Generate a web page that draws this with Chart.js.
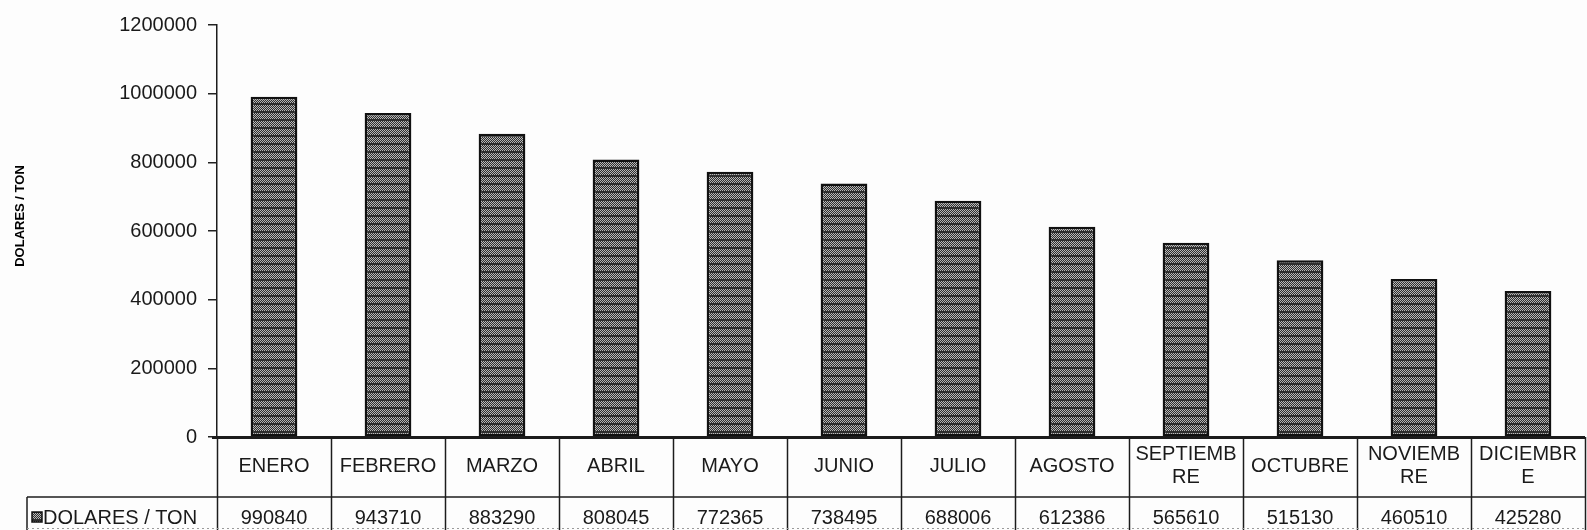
<!DOCTYPE html>
<html>
<head>
<meta charset="utf-8">
<title>Dolares / Ton</title>
<script src="https://cdn.jsdelivr.net/npm/chart.js@4/dist/chart.umd.min.js"></script>
<style>
  html, body { margin: 0; padding: 0; background: #fdfdfd; }
  #wrap { width: 1587px; height: 530px; position: relative; }
</style>
</head>
<body>
<div id="wrap"><canvas id="precioChart"></canvas></div>
<script>
// monthly price series, one entry per month (long names wrap in the table)
const meses = [
  ['ENERO'], ['FEBRERO'], ['MARZO'], ['ABRIL'], ['MAYO'], ['JUNIO'],
  ['JULIO'], ['AGOSTO'], ['SEPTIEMB', 'RE'], ['OCTUBRE'], ['NOVIEMB', 'RE'], ['DICIEMBR', 'E']
];
const dolaresTon = [990840, 943710, 883290, 808045, 772365, 738495, 688006, 612386, 565610, 515130, 460510, 425280];
const ticksY = [0, 200000, 400000, 600000, 800000, 1000000, 1200000];
const serieNombre = 'DOLARES / TON';
const ejeTitulo = 'DOLARES / TON';

const FUENTE = '"Liberation Sans", Arial, sans-serif';
const TINTA = '#1a1a1a';

// dotted cross-hatch fill used for the bars
function tramaBarra() {
  const c = document.createElement('canvas');
  c.width = 4;
  c.height = 8;
  const g = c.getContext('2d');
  g.fillStyle = '#2e2e2e';
  g.fillRect(0, 0, 4, 8);
  g.fillStyle = '#b8b8b8';
  for (let y = 1; y < 7; y++) {
    for (let x = y % 2; x < 4; x += 2) {
      g.fillRect(x, y, 1, 1);
    }
  }
  return g.createPattern(c, 'repeat');
}

function linea(ctx, x1, y1, x2, y2) {
  ctx.beginPath();
  ctx.moveTo(x1, y1);
  ctx.lineTo(x2, y2);
  ctx.stroke();
}

// data table under the plot: month row, value row, legend key
const tablaDatos = {
  id: 'tablaDatos',
  afterDraw(chart) {
    const { ctx, chartArea: area } = chart;
    const x = chart.scales.x;
    const paso = x.getPixelForValue(1) - x.getPixelForValue(0);
    const yEje = area.bottom;
    const yFila = yEje + 60;
    const yFin = chart.height;
    const xIzq = 27;

    ctx.save();
    ctx.strokeStyle = '#1c1c1c';

    // base line of the plot
    ctx.lineWidth = 3;
    linea(ctx, area.left - 5, yEje + 0.5, area.right, yEje + 0.5);

    // row separator and cell borders
    ctx.lineWidth = 1.5;
    linea(ctx, xIzq, yFila, area.right, yFila);
    for (let i = 0; i <= meses.length; i++) {
      const xb = Math.round(x.getPixelForValue(i) - paso / 2) + 0.5;
      linea(ctx, xb, yEje, xb, yFin);
    }
    linea(ctx, xIzq, yFila, xIzq, yFin);

    ctx.setLineDash([2, 3]);
    ctx.strokeStyle = '#9a9a9a';
    ctx.lineWidth = 1;
    linea(ctx, xIzq, yFin - 1.5, area.right, yFin - 1.5);
    ctx.setLineDash([]);

    ctx.font = '20px ' + FUENTE;
    ctx.fillStyle = TINTA;
    ctx.textAlign = 'center';
    ctx.textBaseline = 'middle';

    const yMedio = (yEje + yFila) / 2 - 1;
    meses.forEach((m, i) => {
      const cx = x.getPixelForValue(i);
      m.forEach((txt, k) => {
        ctx.fillText(txt, cx, yMedio + (k - (m.length - 1) / 2) * 23);
      });
    });

    dolaresTon.forEach((v, i) => {
      ctx.fillText(String(v), x.getPixelForValue(i), 518);
    });

    // legend key
    ctx.fillStyle = chart.data.datasets[0].backgroundColor;
    ctx.fillRect(32, 512, 10, 10);
    ctx.strokeStyle = '#111';
    ctx.lineWidth = 1.5;
    ctx.strokeRect(32, 512, 10, 10);

    ctx.fillStyle = TINTA;
    ctx.textAlign = 'left';
    ctx.fillText(serieNombre, 43, 518);

    // vertical axis title
    ctx.save();
    ctx.translate(20, 216);
    ctx.rotate(-Math.PI / 2);
    ctx.font = 'bold 13px ' + FUENTE;
    ctx.fillStyle = '#000';
    ctx.textAlign = 'center';
    ctx.fillText(ejeTitulo, 0, 0);
    ctx.restore();

    ctx.restore();
  }
};

const lienzo = document.getElementById('precioChart');

new Chart(lienzo, {
  type: 'bar',
  data: {
    labels: meses.map((m) => m.join('')),
    datasets: [
      {
        label: serieNombre,
        data: dolaresTon,
        backgroundColor: tramaBarra(),
        borderColor: '#111',
        borderWidth: 2.5,
        borderSkipped: false,
        barPercentage: 0.41,
        categoryPercentage: 1
      }
    ]
  },
  options: {
    responsive: true,
    maintainAspectRatio: false,
    animation: false,
    layout: { padding: { top: 25, right: 2, bottom: 93, left: 0 } },
    plugins: {
      legend: { display: false },
      tooltip: { enabled: false }
    },
    scales: {
      x: {
        display: false,
        offset: true
      },
      y: {
        min: 0,
        max: 1200000,
        afterBuildTicks: (scale) => {
          scale.ticks = ticksY.map((v) => ({ value: v }));
        },
        afterFit: (scale) => {
          scale.width = 217;
        },
        ticks: {
          color: TINTA,
          padding: 11,
          font: { family: FUENTE, size: 20 },
          callback: (v) => String(v)
        },
        grid: {
          drawOnChartArea: false,
          tickLength: 9,
          color: '#222',
          lineWidth: 1.5
        },
        border: { color: '#1c1c1c', width: 1.5 }
      }
    }
  },
  plugins: [tablaDatos]
});
</script>
</body>
</html>
